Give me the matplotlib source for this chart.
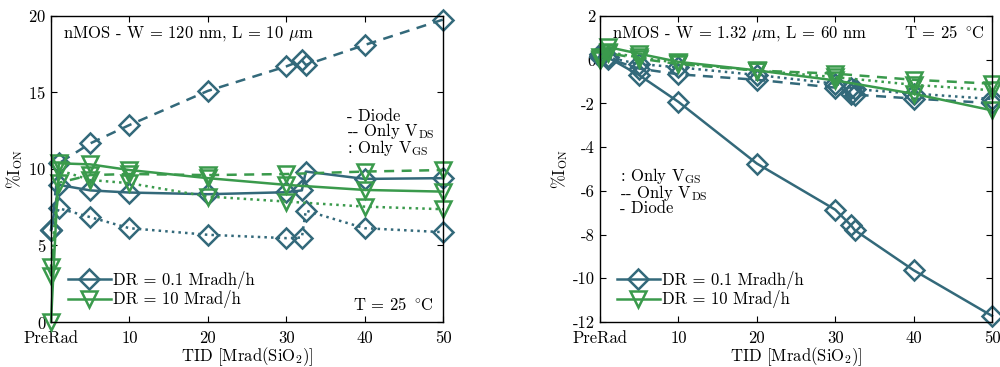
import matplotlib
matplotlib.use("Agg")
import matplotlib.pyplot as plt
from matplotlib.lines import Line2D

plt.rcParams['font.family'] = ['cmr10', 'DejaVu Serif']
plt.rcParams['mathtext.fontset'] = 'cm'
plt.rcParams['axes.formatter.use_mathtext'] = True

BLUE = '#33697a'
GREEN = '#3a9a4c'

# TID steps (0 = PreRad)
x_low = [0, 1, 5, 10, 20, 30, 32, 32.5, 40, 50]   # DR = 0.1 Mrad/h
x_high = [0, 1, 5, 10, 20, 30, 40, 50]            # DR = 10 Mrad/h

# left panel: W = 120 nm, L = 10 um
L_low_diode = [6.0, 8.96, 8.6, 8.46, 8.35, 8.48, 8.6, 9.83, 9.35, 9.4]
L_low_vds = [6.0, 10.37, 11.67, 12.87, 15.1, 16.7, 17.1, 16.8, 18.1, 19.76]
L_low_vgs = [6.0, 7.43, 6.85, 6.13, 5.7, 5.48, 5.52, 7.28, 6.13, 5.87]
L_high_diode = [0.0, 10.37, 10.3, 9.93, 9.4, 8.96, 8.63, 8.52]
L_high_vds = [3.0, 9.1, 9.6, 9.67, 9.6, 9.67, 9.83, 9.93]
L_high_vgs = [3.6, 9.93, 9.28, 9.07, 8.2, 7.87, 7.54, 7.37]

# right panel: W = 1.32 um, L = 60 nm
R_low_diode = [0.25, 0.1, -0.71, -1.93, -4.75, -6.86, -7.57, -7.8, -9.63, -11.72]
R_low_vds = [0.1, 0.05, -0.41, -0.67, -0.92, -1.28, -1.56, -1.6, -1.78, -1.99]
R_low_vgs = [0.15, 0.1, -0.2, -0.35, -0.7, -1.1, -1.3, -1.35, -1.55, -1.8]
R_high_diode = [0.0, 0.58, 0.27, -0.1, -0.49, -0.95, -1.56, -2.32]
R_high_vds = [0.05, 0.3, 0.05, -0.2, -0.5, -0.64, -0.92, -1.1]
R_high_vgs = [0.1, 0.35, 0.1, -0.15, -0.5, -0.8, -1.15, -1.4]

xticks = [0, 10, 20, 30, 40, 50]
xticklabels = ['PreRad', '10', '20', '30', '40', '50']

fig = plt.figure(figsize=(10, 3.67), dpi=100)
ax1 = fig.add_axes([0.051, 0.1226, 0.392, 0.834])
ax2 = fig.add_axes([0.600, 0.1226, 0.392, 0.834])

mk = dict(mfc='none', mew=1.8, lw=1.8, clip_on=False)


def draw(ax, low, high):
    d, vds, vgs = low
    ax.plot(x_low, d, '-', marker='D', ms=10, color=BLUE, **mk)
    ax.plot(x_low, vds, '--', marker='D', ms=10, color=BLUE, dashes=(4, 3), **mk)
    ax.plot(x_low, vgs, ':', marker='D', ms=10, color=BLUE, **mk)
    d, vds, vgs = high
    ax.plot(x_high, d, '-', marker='v', ms=12, color=GREEN, **mk)
    ax.plot(x_high, vds, '--', marker='v', ms=12, color=GREEN, dashes=(4, 3), **mk)
    ax.plot(x_high, vgs, ':', marker='v', ms=12, color=GREEN, **mk)
    ax.set_xlim(0, 50)
    ax.set_xticks(xticks)
    ax.set_xticklabels(xticklabels)
    ax.tick_params(direction='in', top=True, right=True, labelsize=12, length=4)
    ax.tick_params(axis='x', pad=6)
    ax.set_xlabel(r'TID [Mrad(SiO$_2$)]', fontsize=12, labelpad=0)
    ax.set_ylabel(r'%I$_{\rm ON}$', fontsize=12, labelpad=2)
    for s in ax.spines.values():
        s.set_linewidth(1.0)
    handles = [Line2D([], [], color=BLUE, marker='D', ms=10, mfc='none', mew=1.8, lw=1.8),
               Line2D([], [], color=GREEN, marker='v', ms=12, mfc='none', mew=1.8, lw=1.8)]
    ax.legend(handles, ['DR = 0.1 Mradh/h', 'DR = 10 Mrad/h'], loc='lower left',
              bbox_to_anchor=(0.0, -0.01), frameon=False, fontsize=12,
              handlelength=2.6, handletextpad=0.1, labelspacing=0.1,
              borderaxespad=0.6)


draw(ax1, (L_low_diode, L_low_vds, L_low_vgs), (L_high_diode, L_high_vds, L_high_vgs))
ax1.set_ylim(0, 20)
ax1.set_yticks([0, 5, 10, 15, 20])
ax1.text(0.03, 0.975, r'nMOS - W = 120 nm, L = 10 $\mu$m', transform=ax1.transAxes,
         fontsize=12, va='top')
ax1.text(0.975, 0.03, r'T = 25 $^\circ\!$C', transform=ax1.transAxes,
         fontsize=12, ha='right', va='bottom')
ax1.text(0.755, 0.535, '- Diode\n-- Only V$_{\\rm DS}$\n: Only V$_{\\rm GS}$',
         transform=ax1.transAxes, fontsize=12, va='bottom', linespacing=0.82)

draw(ax2, (R_low_diode, R_low_vds, R_low_vgs), (R_high_diode, R_high_vds, R_high_vgs))
ax2.set_ylim(-12, 2)
ax2.set_yticks([-12, -10, -8, -6, -4, -2, 0, 2])
ax2.set_yticklabels(['-12', '-10', '-8', '-6', '-4', '-2', '0', '2'])
ax2.text(0.03, 0.975, r'nMOS - W = 1.32 $\mu$m, L = 60 nm', transform=ax2.transAxes,
         fontsize=12, va='top')
ax2.text(0.98, 0.975, r'T = 25 $^\circ\!$C', transform=ax2.transAxes,
         fontsize=12, ha='right', va='top')
ax2.text(0.05, 0.345, ': Only V$_{\\rm GS}$\n-- Only V$_{\\rm DS}$\n- Diode',
         transform=ax2.transAxes, fontsize=12, va='bottom', linespacing=0.82)

fig.savefig('out.png', dpi=100)
